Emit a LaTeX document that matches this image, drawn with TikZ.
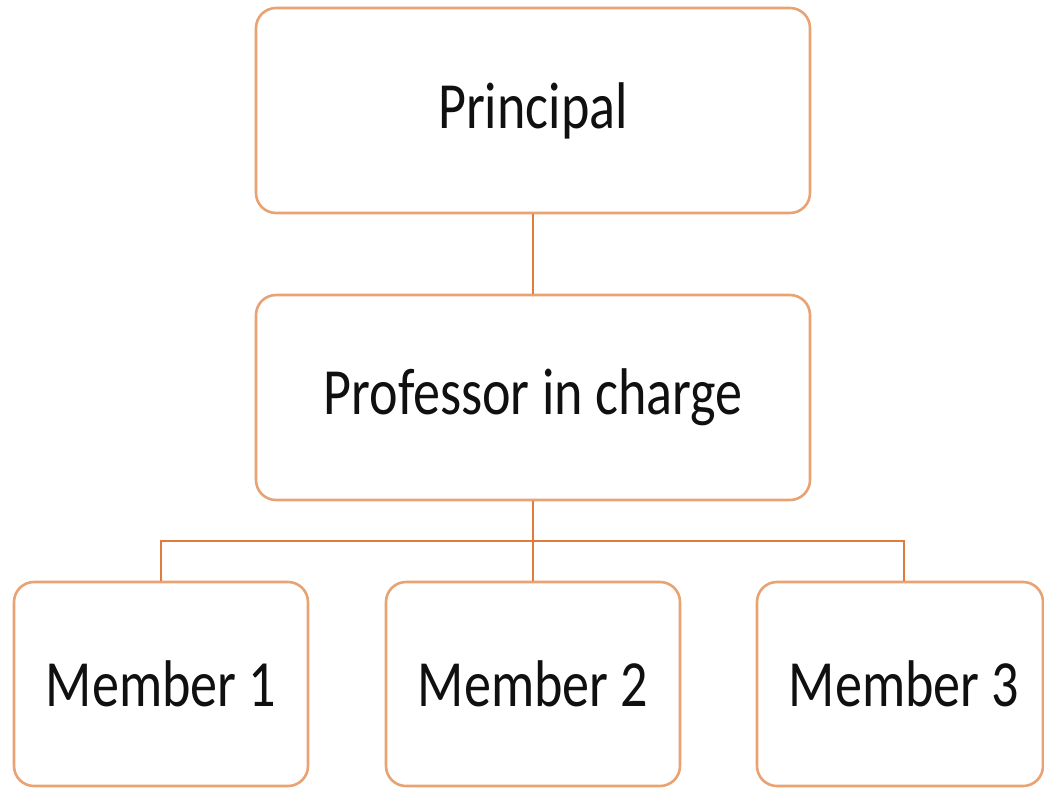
\documentclass[tikz,border=0pt]{standalone}
\usepackage{fontspec}
\setmainfont{Carlito}
\definecolor{boxc}{HTML}{E9A272}
\definecolor{linec}{HTML}{E07B3C}
\definecolor{txt}{HTML}{101010}
\newcommand{\narrowtxt}[1]{\scalebox{0.82}[1]{#1}}
\begin{document}
\begin{tikzpicture}[x=1pt,y=-1pt,
  orgbox/.style={draw=boxc, line width=2.6pt, rounded corners=20pt, fill=white,
    inner sep=0pt, text=txt, font=\fontsize{66}{79}\selectfont},
  conn/.style={draw=linec, line width=1.6pt}]
\useasboundingbox (0,0) rectangle (1044,788);
\node[orgbox, minimum width=554pt, minimum height=205pt] (P) at (533,110.5) {\narrowtxt{Principal}};
\node[orgbox, minimum width=554pt, minimum height=205pt] (Q) at (533,397.5) {\narrowtxt{Professor in charge}};
\node[orgbox, minimum width=294pt, minimum height=204pt] (M1) at (161,684) {\narrowtxt{Member 1}};
\node[orgbox, minimum width=294pt, minimum height=204pt] (M2) at (533,684) {\narrowtxt{Member 2}};
\node[orgbox, minimum width=286pt, minimum height=204pt] (M3) at (900,684) {\hspace{8pt}\narrowtxt{Member 3}};
\coordinate (J) at (533,541);
\coordinate (M3top) at ([xshift=4pt]M3.north);
\draw[conn] (P.south) -- (Q.north);
\draw[conn] (Q.south) -- (J);
\draw[conn] (J) -| (M1.north);
\draw[conn] (J) -- (M2.north);
\draw[conn] (J) -| (M3top);
\end{tikzpicture}
\end{document}
